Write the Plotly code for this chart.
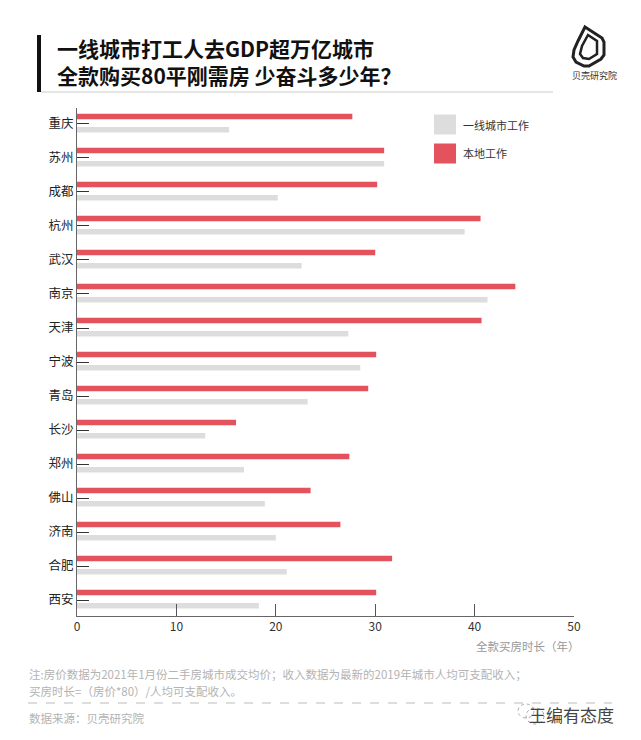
import plotly.graph_objects as go

cities = ["重庆", "苏州", "成都", "杭州", "武汉", "南京", "天津", "宁波",
          "青岛", "长沙", "郑州", "佛山", "济南", "合肥", "西安"]
local_work = [27.7, 30.9, 30.2, 40.6, 30.0, 44.1, 40.7, 30.1,
              29.3, 16.0, 27.4, 23.5, 26.5, 31.7, 30.1]
tier1_work = [15.3, 30.9, 20.2, 39.0, 22.6, 41.3, 27.3, 28.5,
              23.2, 12.9, 16.8, 18.9, 20.0, 21.1, 18.3]
x_ticks = [0, 10, 20, 30, 40, 50]
series_names = ["一线城市工作", "本地工作"]

RED = "#e3525d"
GRAY = "#dddddd"
FONT = "Noto Sans CJK SC"

W, H = 641, 740
L, R, T, B = 77, 67, 108, 124
PW, PH = W - L - R, H - T - B


def xp(px):
    return (px - L) / PW


def yp(py):
    return (H - B - py) / PH


fig = go.Figure()
fig.add_trace(go.Bar(
    y=cities, x=local_work, orientation="h", name=series_names[1],
    marker=dict(color=RED, line=dict(width=0)), width=0.16, offset=-0.30,
    showlegend=False))
fig.add_trace(go.Bar(
    y=cities, x=tier1_work, orientation="h", name=series_names[0],
    marker=dict(color=GRAY, line=dict(width=0)), width=0.16, offset=0.09,
    showlegend=False))

shapes = []
annotations = []

# title bar and underline
shapes.append(dict(type="rect", xref="paper", yref="paper",
                   x0=xp(37), x1=xp(41), y0=yp(35), y1=yp(92),
                   fillcolor="#111111", line=dict(width=0), layer="above"))
shapes.append(dict(type="line", xref="paper", yref="paper",
                   x0=xp(41), x1=xp(553), y0=yp(92), y1=yp(92),
                   line=dict(color="#cccccc", width=1.2)))

annotations.append(dict(xref="paper", yref="paper", x=xp(55), y=yp(62),
                        xanchor="left", yanchor="middle", showarrow=False,
                        align="left",
                        text="<b>一线城市打工人去GDP超万亿城市</b><br><b>全款购买80平刚需房 少奋斗多少年？</b>",
                        font=dict(family=FONT, size=21, color="#111111")))

# logo
def path(points):
    s = "M %f,%f " % (xp(points[0][0]), yp(points[0][1]))
    for p in points[1:]:
        s += "L %f,%f " % (xp(p[0]), yp(p[1]))
    return s + "Z"

outer = [(585, 27), (602, 38), (604, 42), (604, 55), (601, 59), (589, 66),
         (584, 66), (576, 62), (573, 57), (574, 50), (578, 41)]
inner = [(588, 35), (597, 41), (597, 54), (589, 59), (583, 58), (580, 54), (582, 46)]
shapes.append(dict(type="path", xref="paper", yref="paper", path=path(outer),
                   line=dict(color="#222222", width=3)))
shapes.append(dict(type="path", xref="paper", yref="paper", path=path(inner),
                   line=dict(color="#222222", width=2.5)))
annotations.append(dict(xref="paper", yref="paper", x=xp(594), y=yp(76),
                        xanchor="center", yanchor="middle", showarrow=False,
                        text="贝壳研究院",
                        font=dict(family=FONT, size=9, color="#333333")))

# legend
for name, col, cy in [(series_names[0], GRAY, 124.5), (series_names[1], RED, 153.5)]:
    shapes.append(dict(type="rect", xref="paper", yref="paper",
                       x0=xp(434), x1=xp(456), y0=yp(cy - 10), y1=yp(cy + 10),
                       fillcolor=col, line=dict(width=0)))
    annotations.append(dict(xref="paper", yref="paper", x=xp(461), y=yp(cy),
                            xanchor="left", yanchor="middle", showarrow=False,
                            text=name,
                            font=dict(family=FONT, size=11, color="#333333")))

# axis title
annotations.append(dict(xref="paper", yref="paper", x=xp(582), y=yp(646),
                        xanchor="right", yanchor="middle", showarrow=False,
                        text="全款买房时长（年）",
                        font=dict(family=FONT, size=11.5, color="#999999")))

# footnotes
annotations.append(dict(xref="paper", yref="paper", x=xp(27), y=yp(674),
                        xanchor="left", yanchor="middle", showarrow=False,
                        text="注:房价数据为2021年1月份二手房城市成交均价；收入数据为最新的2019年城市人均可支配收入；",
                        font=dict(family=FONT, size=11.5, color="#b3b3b3")))
annotations.append(dict(xref="paper", yref="paper", x=xp(27), y=yp(691),
                        xanchor="left", yanchor="middle", showarrow=False,
                        text="买房时长=（房价*80）/人均可支配收入。",
                        font=dict(family=FONT, size=11.5, color="#b3b3b3")))
shapes.append(dict(type="line", xref="paper", yref="paper",
                   x0=xp(28), x1=xp(612), y0=yp(703), y1=yp(703),
                   line=dict(color="#bbbbbb", width=1, dash="dash")))
annotations.append(dict(xref="paper", yref="paper", x=xp(27), y=yp(718),
                        xanchor="left", yanchor="middle", showarrow=False,
                        text="数据来源：贝壳研究院",
                        font=dict(family=FONT, size=11.5, color="#b3b3b3")))

# watermark
shapes.append(dict(type="circle", xref="paper", yref="paper",
                   x0=xp(518), x1=xp(534), y0=yp(718), y1=yp(704),
                   line=dict(color="#aaaaaa", width=1, dash="dot")))
shapes.append(dict(type="circle", xref="paper", yref="paper",
                   x0=xp(526), x1=xp(544), y0=yp(724), y1=yp(708),
                   line=dict(color="#999999", width=1, dash="dot")))
annotations.append(dict(xref="paper", yref="paper", x=xp(616), y=yp(714),
                        xanchor="right", yanchor="middle", showarrow=False,
                        text="王编有态度",
                        font=dict(family=FONT, size=17, color="#444444")))

fig.update_layout(
    width=W, height=H,
    margin=dict(l=L, r=R, t=T, b=B, pad=0),
    paper_bgcolor="white", plot_bgcolor="white",
    barmode="overlay",
    shapes=shapes, annotations=annotations,
    font=dict(family=FONT),
    xaxis=dict(range=[0, 50], tickvals=x_ticks, ticks="inside", ticklen=12,
               tickcolor="#555555", tickwidth=1,
               showline=True, linecolor="#666666", linewidth=1,
               showgrid=False, zeroline=False,
               tickfont=dict(family=FONT, size=12, color="#333333")),
    yaxis=dict(categoryorder="array", categoryarray=cities,
               range=[14.47, -0.47], ticks="inside", ticklen=12,
               tickcolor="#333333", tickwidth=1,
               showline=True, linecolor="#666666", linewidth=1,
               showgrid=False, zeroline=False,
               tickfont=dict(family=FONT, size=12.5, color="#222222")),
)

fig.write_html("out.html",
               config={"staticPlot": True, "displayModeBar": False},
               post_script="document.body.style.margin='0';document.body.style.padding='0';")
